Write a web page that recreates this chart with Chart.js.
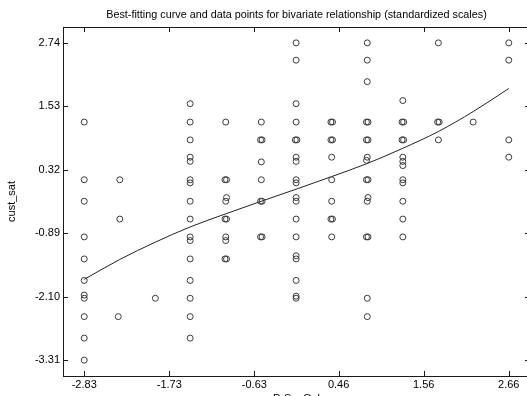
<!DOCTYPE html>
<html>
<head>
<meta charset="utf-8">
<script src="https://cdn.jsdelivr.net/npm/chart.js@4/dist/chart.umd.min.js"></script>
<style>
  html, body { margin: 0; padding: 0; overflow: hidden; background: #fff; }
  #wrap { width: 540px; height: 410px; }
</style>
</head>
<body>
<div id="wrap"><canvas id="chart" width="540" height="410"></canvas></div>
<script>
// Tick values (ends of each axis split into five equal steps)
const xTickValues = [-2.83, -1.73, -0.63, 0.46, 1.56, 2.66];
const yTickValues = [-3.31, -2.10, -0.89, 0.32, 1.53, 2.74];

// Axis limits: data range padded by 5% on each side
const xLimits = [-3.1045, 2.9345];
const yLimits = [-3.6125, 3.0425];

// Respondents: standardized PrSavQnl (x) and cust_sat (y), listed level by level
const prSavQnl = [
  -2.83, -2.83, -2.83, -2.83, -2.83, -2.83, -2.83, -2.83, -2.83, -2.83, -2.83,
  -2.37, -2.37, -2.39,
  -1.91,
  -1.46, -1.46, -1.46, -1.46, -1.46, -1.46, -1.46, -1.46, -1.46, -1.46, -1.46, -1.46, -1.46, -1.46, -1.46, -1.46,
  -1.00, -1.01, -0.99, -0.99, -1.00, -1.01, -0.99, -1.00, -1.00, -1.01, -0.99,
  -0.54, -0.55, -0.53, -0.54, -0.54, -0.55, -0.53, -0.55, -0.53,
  -0.09, -0.09, -0.09, -0.09, -0.10, -0.08, -0.09, -0.09, -0.09, -0.09, -0.09, -0.09, -0.09, -0.09, -0.09, -0.09, -0.09, -0.09, -0.09,
  0.36, 0.38, 0.36, 0.38, 0.37, 0.37, 0.37, 0.36, 0.38, 0.37,
  0.83, 0.83, 0.83, 0.82, 0.84, 0.82, 0.84, 0.83, 0.82, 0.82, 0.84, 0.84, 0.83, 0.82, 0.84, 0.83, 0.83,
  1.29, 1.28, 1.30, 1.28, 1.30, 1.29, 1.29, 1.29, 1.29, 1.29, 1.29, 1.29, 1.29,
  1.75, 1.74, 1.76, 1.75,
  2.20,
  2.66, 2.66, 2.66, 2.66
];
const custSat = [
  1.23, 0.13, -0.28, -0.96, -1.38, -1.79, -2.07, -2.13, -2.48, -2.89, -3.31,
  0.13, -0.62, -2.48,
  -2.13,
  1.58, 1.23, 0.89, 0.56, 0.48, 0.13, 0.07, -0.28, -0.62, -0.96, -1.03, -1.38, -1.79, -2.13, -2.48, -2.89,
  1.23, 0.13, 0.13, -0.21, -0.28, -0.62, -0.62, -0.96, -1.03, -1.38, -1.38,
  1.23, 0.89, 0.89, 0.47, 0.13, -0.28, -0.28, -0.96, -0.96,
  2.74, 2.41, 1.58, 1.23, 0.89, 0.89, 0.56, 0.48, 0.13, 0.07, -0.21, -0.28, -0.62, -0.96, -1.32, -1.38, -1.79, -2.09, -2.13,
  1.23, 1.23, 0.89, 0.89, 0.56, 0.13, -0.28, -0.62, -0.62, -0.96,
  2.74, 2.41, 2.00, 1.23, 1.23, 0.89, 0.89, 0.56, 0.50, 0.13, 0.13, -0.21, -0.28, -0.96, -0.96, -2.13, -2.48,
  1.64, 1.23, 1.23, 0.89, 0.89, 0.56, 0.48, 0.40, 0.13, 0.07, -0.28, -0.62, -0.96,
  2.74, 1.23, 1.23, 0.89,
  1.23,
  2.74, 2.41, 0.89, 0.56
];

// Best-fitting curve, sampled at each PrSavQnl level
const fitX = [-2.83, -2.37, -1.91, -1.46, -1.00, -0.54, -0.09, 0.37, 0.83, 1.29, 1.75, 2.20, 2.66];
const fitY = [-1.77, -1.39, -1.06, -0.77, -0.52, -0.28, -0.05, 0.19, 0.44, 0.73, 1.05, 1.43, 1.87];

const FONT = '"Liberation Sans", Arial, Helvetica, sans-serif';
Chart.defaults.font.family = FONT;
Chart.defaults.font.size = 11;
Chart.defaults.color = '#000';

const AXIS_COLOR = '#1a1a1a';
const fixedTicks = values => scale => { scale.ticks = values.map(v => ({ value: v })); };

// Short tick marks pointing into the plot on all four sides
const inwardTicks = {
  id: 'inwardTicks',
  afterDatasetsDraw(chart) {
    const { ctx, chartArea: a, scales: { x, y } } = chart;
    const len = 5;
    ctx.save();
    ctx.strokeStyle = AXIS_COLOR;
    ctx.lineWidth = 1;
    ctx.beginPath();
    xTickValues.forEach(v => {
      const px = Math.round(x.getPixelForValue(v)) + 0.5;
      ctx.moveTo(px, a.bottom); ctx.lineTo(px, a.bottom - len);
      ctx.moveTo(px, a.top); ctx.lineTo(px, a.top + len);
    });
    yTickValues.forEach(v => {
      const py = Math.round(y.getPixelForValue(v)) + 0.5;
      ctx.moveTo(a.left, py); ctx.lineTo(a.left + len, py);
      ctx.moveTo(a.right, py); ctx.lineTo(a.right - len, py);
    });
    ctx.stroke();
    ctx.restore();
  }
};

const border = { display: true, color: AXIS_COLOR, width: 1 };
const noGrid = { display: false, drawTicks: false };

new Chart(document.getElementById('chart'), {
  type: 'scatter',
  data: {
    datasets: [
      {
        label: 'cust_sat',
        data: prSavQnl.map((x, i) => ({ x, y: custSat[i] })),
        xAxisID: 'x', yAxisID: 'y',
        pointStyle: 'circle',
        pointRadius: 3,
        pointHoverRadius: 3,
        borderWidth: 1,
        borderColor: '#3a3a3a',
        backgroundColor: 'rgba(0,0,0,0)'
      },
      {
        label: 'fit',
        type: 'line',
        data: fitX.map((x, i) => ({ x, y: fitY[i] })),
        xAxisID: 'x', yAxisID: 'y',
        borderColor: '#222',
        borderWidth: 1,
        pointRadius: 0,
        fill: false,
        cubicInterpolationMode: 'monotone'
      }
    ]
  },
  options: {
    responsive: false,
    animation: false,
    events: [],
    layout: { padding: 0 },
    plugins: { legend: { display: false }, tooltip: { enabled: false }, title: { display: false } },
    scales: {
      x: {
        type: 'linear', position: 'bottom', min: xLimits[0], max: xLimits[1],
        afterBuildTicks: fixedTicks(xTickValues),
        afterFit: s => { s.height = 34; },
        grid: noGrid, border,
        ticks: { padding: 2, autoSkip: false, maxRotation: 0, callback: v => v.toFixed(2) },
        title: { display: true, text: 'PrSavQnl', padding: { top: 0, bottom: 4 } }
      },
      x2: {
        type: 'linear', position: 'top', min: xLimits[0], max: xLimits[1],
        afterFit: s => { s.height = 27; },
        grid: noGrid, border,
        ticks: { display: false },
        title: {
          display: true,
          text: 'Best-fitting curve and data points for bivariate relationship (standardized scales)',
          font: { size: 10.8 },
          padding: { top: 9, bottom: 0 }
        }
      },
      y: {
        type: 'linear', position: 'left', min: yLimits[0], max: yLimits[1],
        afterBuildTicks: fixedTicks(yTickValues),
        afterFit: s => { s.width = 63; },
        grid: noGrid, border,
        ticks: { padding: 3, autoSkip: false, callback: v => v.toFixed(2) },
        title: { display: true, text: 'cust_sat', padding: { top: 5, bottom: 0 } }
      },
      y2: {
        type: 'linear', position: 'right', min: yLimits[0], max: yLimits[1],
        afterFit: s => { s.width = 10; },
        grid: noGrid, border,
        ticks: { display: false }
      }
    }
  },
  plugins: [inwardTicks]
});
</script>
</body>
</html>
